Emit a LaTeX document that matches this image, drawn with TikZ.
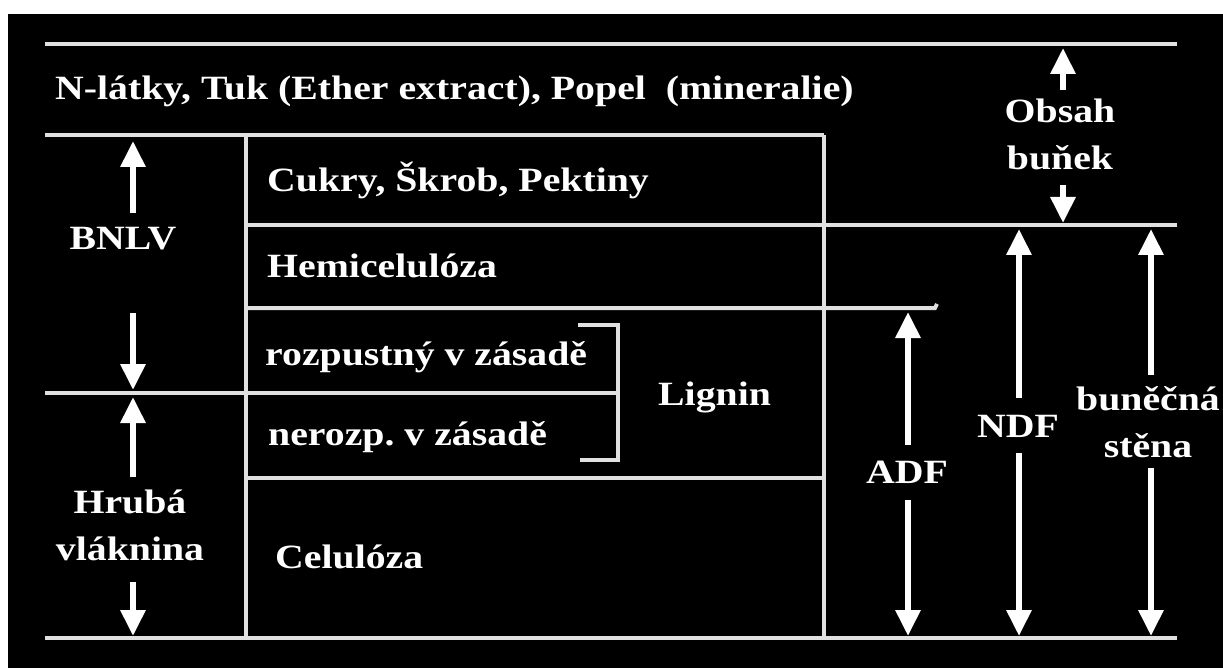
\documentclass[tikz,border=0pt]{standalone}
\usepackage{fontspec}
\setmainfont{Liberation Serif}[FakeStretch = 1.17]
\usetikzlibrary{arrows.meta}

\begin{document}
\begin{tikzpicture}[x = 1pt, y = -1pt,
    rule/.style = {line width = 4pt, draw = white!88!black},
    dim/.style = {line width = 6pt, white, -{Triangle[width = 24pt, length = 26pt]}},
    lbl/.style = {text = white, inner sep = 0pt, align = center, font = \fontsize{34}{47}\selectfont\bfseries}]
    \useasboundingbox (0, 0) rectangle (1223, 668);
    \fill[white] (0, 0) rectangle (1223, 668);
    \fill[black] (8, 14) rectangle (1223, 668);

    % horizontal rules
    \draw[rule] (45, 44) -- (1177, 44);
    \draw[rule] (45, 135) -- (824, 135);
    \draw[rule] (246, 225) -- (1177, 225);
    \draw[rule] (246, 308) -- (935, 308) -- (937, 304);
    \draw[rule] (45, 393) -- (618, 393);
    \draw[rule] (246, 478) -- (824, 478);
    \draw[rule] (45, 638) -- (1177, 638);

    % vertical rules
    \draw[rule] (246, 135) -- (246, 638);
    \draw[rule] (824, 135) -- (824, 638);

    % bracket for lignin
    \draw[rule] (578, 325) -- (618, 325) -- (618, 460) -- (580, 460);

    \node[lbl, anchor = base west] (ext) at (55, 100) {N-látky, Tuk (Ether extract), Popel\ \ (mineralie)};
    \node[lbl, anchor = base west] (cukry) at (267, 192) {Cukry, Škrob, Pektiny};
    \node[lbl, anchor = base west] (hemi) at (267, 278) {Hemicelulóza};
    \node[lbl, anchor = base west] (rozp) at (265, 365) {rozpustný v zásadě};
    \node[lbl, anchor = base west] (nerozp) at (268, 445) {nerozp.\ v zásadě};
    \node[lbl, anchor = base west] (lignin) at (658, 405) {Lignin};
    \node[lbl, anchor = base west] (celul) at (275, 568) {Celulóza};

    % two-line labels sit on the baseline of their last line
    \node[lbl, anchor = base] (bnlv) at (123, 250) {BNLV};
    \node[lbl, anchor = base] (hruba) at (130, 560) {Hrubá\\vláknina};
    \node[lbl, anchor = base] (obsah) at (1060, 170) {Obsah\\buňek};
    \node[lbl, anchor = base] (adf) at (907, 483) {ADF};
    \node[lbl, anchor = base] (ndf) at (1018, 437) {NDF};
    \node[lbl, anchor = base] (stena) at (1148, 457) {buněčná\\stěna};

    % arrow ends
    \coordinate (bnlv-a) at (133, 213);
    \coordinate (bnlv-top) at (133, 141);
    \coordinate (bnlv-b) at (133, 313);
    \coordinate (bnlv-bot) at (133, 390);
    \coordinate (hruba-a) at (133, 477);
    \coordinate (hruba-top) at (133, 397);
    \coordinate (hruba-b) at (133, 582);
    \coordinate (hruba-bot) at (133, 636);
    \coordinate (obsah-a) at (1063, 90);
    \coordinate (obsah-top) at (1063, 48);
    \coordinate (obsah-b) at (1063, 185);
    \coordinate (obsah-bot) at (1063, 223);
    \coordinate (adf-a) at (908, 445);
    \coordinate (adf-top) at (908, 312);
    \coordinate (adf-b) at (908, 500);
    \coordinate (adf-bot) at (908, 636);
    \coordinate (ndf-a) at (1019, 398);
    \coordinate (ndf-top) at (1019, 229);
    \coordinate (ndf-b) at (1019, 453);
    \coordinate (ndf-bot) at (1019, 636);
    \coordinate (stena-a) at (1151, 375);
    \coordinate (stena-top) at (1151, 229);
    \coordinate (stena-b) at (1151, 468);
    \coordinate (stena-bot) at (1151, 636);

    \draw[dim] (bnlv-a) -- (bnlv-top);
    \draw[dim] (bnlv-b) -- (bnlv-bot);
    \draw[dim] (hruba-a) -- (hruba-top);
    \draw[dim] (hruba-b) -- (hruba-bot);
    \draw[dim] (obsah-a) -- (obsah-top);
    \draw[dim] (obsah-b) -- (obsah-bot);
    \draw[dim] (adf-a) -- (adf-top);
    \draw[dim] (adf-b) -- (adf-bot);
    \draw[dim] (ndf-a) -- (ndf-top);
    \draw[dim] (ndf-b) -- (ndf-bot);
    \draw[dim] (stena-a) -- (stena-top);
    \draw[dim] (stena-b) -- (stena-bot);
\end{tikzpicture}
\end{document}
